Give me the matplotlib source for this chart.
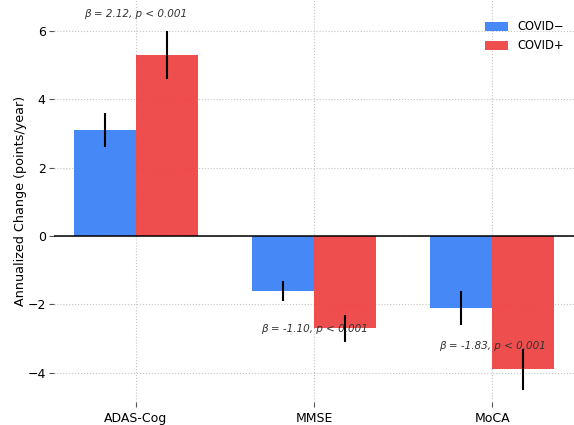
import matplotlib
matplotlib.use("Agg")
import matplotlib.pyplot as plt
import numpy as np

# data
measures = ["ADAS-Cog", "MMSE", "MoCA"]
neg_vals = [3.1, -1.6, -2.1]
neg_err = [0.5, 0.3, 0.5]
pos_vals = [5.3, -2.7, -3.9]
pos_err = [0.7, 0.4, 0.6]
labels = ["COVID\u2212", "COVID+"]
notes = ["\u03b2 = 2.12, p < 0.001", "\u03b2 = -1.10, p < 0.001", "\u03b2 = -1.83, p < 0.001"]
note_y = [6.5, -2.72, -3.22]

fig = plt.figure(figsize=(5.74, 4.25), dpi=100)
ax = fig.add_axes([54 / 574, 23 / 425, 520 / 574, 402 / 425])

x = np.arange(len(measures))
w = 0.35
ax.bar(x - w / 2, neg_vals, w, color="#3b82f6", alpha=0.95, label=labels[0],
       yerr=neg_err, error_kw=dict(ecolor="black", elinewidth=1.5, capsize=0))
ax.bar(x + w / 2, pos_vals, w, color="#ef4444", alpha=0.95, label=labels[1],
       yerr=pos_err, error_kw=dict(ecolor="black", elinewidth=1.5, capsize=0))

ax.axhline(0, color="black", lw=1.1, zorder=3)

for i, t in enumerate(notes):
    ax.text(x[i], note_y[i], t, ha="center", va="center", fontsize=7.5,
            style="italic", color="#333333", zorder=5)

ax.set_xticks(x)
ax.set_xticklabels(measures)
ax.set_yticks([-4, -2, 0, 2, 4, 6])
ax.tick_params(axis="both", length=3.5, color="#555555", labelsize=9)
ax.tick_params(axis="y", pad=2.5)
ax.set_xlim(-0.46, 2.46)
ax.set_ylim(-4.85, 6.9)
ax.set_ylabel("Annualized Change (points/year)", fontsize=9.2, labelpad=0)
ax.grid(True, linestyle=":", color="#c4c4c4", lw=0.8)
ax.set_axisbelow(True)
for s in ax.spines.values():
    s.set_visible(False)

ax.legend(loc="upper right", frameon=False, fontsize=8.3, handlelength=2.0,
          handleheight=0.8, bbox_to_anchor=(1.0, 0.975))

fig.savefig("out.png", dpi=100)
